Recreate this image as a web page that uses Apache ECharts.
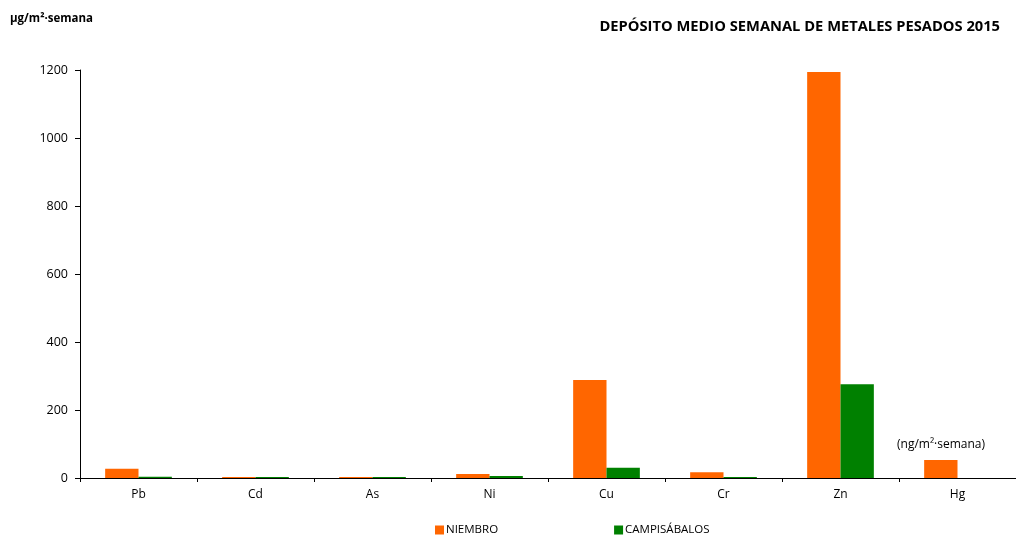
<!DOCTYPE html>
<html>
<head>
<meta charset="utf-8">
<script src="https://cdn.jsdelivr.net/npm/echarts@6/dist/echarts.min.js"></script>
<style>html,body{margin:0;padding:0;background:#fff}#c{width:1016px;height:537px}</style>
</head>
<body>
<div id="c"></div>
<script>
const categories = ['Pb','Cd','As','Ni','Cu','Cr','Zn','Hg'];
const niembro = [27, 2, 2, 12, 288, 17, 1194, 53];
const campisabalos = [4, 2, 2, 6, 30, 3, 276, null];
const yTicks = [0, 200, 400, 600, 800, 1000, 1200];
const seriesNames = ['NIEMBRO', 'CAMPISÁBALOS'];
const titleText = 'DEPÓSITO MEDIO SEMANAL DE METALES PESADOS 2015';
const unitText = 'µg/m²·semana';
const hgNote = '(ng/m²·semana)';

const FONT = '"Open Sans", "Liberation Sans", sans-serif';
const chart = echarts.init(document.getElementById('c'), null, {renderer: 'canvas'});
chart.setOption({
  animation: false,
  backgroundColor: '#ffffff',
  textStyle: {fontFamily: FONT},
  title: [
    {text: titleText, right: 16, top: 19, padding: 0,
     textStyle: {fontFamily: FONT, fontSize: 14.7, fontWeight: 'bold', color: '#000'}},
    {text: unitText, left: 10, top: 13, padding: 0,
     textStyle: {fontFamily: FONT, fontSize: 11.5, fontWeight: 'bold', color: '#000'}}
  ],
  legend: {
    bottom: 1, left: 435, padding: 0,
    itemWidth: 9, itemHeight: 9, itemGap: 116,
    icon: 'rect',
    textStyle: {fontFamily: FONT, fontSize: 11.5, color: '#000', padding: [0,0,0,-3]},
    data: seriesNames
  },
  grid: {left: 80, right: -1, top: 70, bottom: 59, containLabel: false},
  xAxis: {
    type: 'category', data: categories,
    axisLine: {lineStyle: {color: '#000', width: 1}},
    axisTick: {show: true, length: 4, lineStyle: {color: '#000'}},
    axisLabel: {color: '#000', fontSize: 12, margin: 11, fontFamily: FONT}
  },
  yAxis: {
    type: 'value', min: yTicks[0], max: yTicks[yTicks.length-1], interval: 200,
    axisLine: {show: true, lineStyle: {color: '#000', width: 1}},
    axisTick: {show: true, length: 5, lineStyle: {color: '#000'}},
    splitLine: {show: false},
    axisLabel: {color: '#000', fontSize: 12.5, margin: 12, fontFamily: FONT,
                formatter: v => String(v)}
  },
  series: [
    {name: seriesNames[0], type: 'bar', data: niembro, barGap: '0%', barCategoryGap: '43%',
     barMinHeight: 1, itemStyle: {color: '#FF6600'}},
    {name: seriesNames[1], type: 'bar', data: campisabalos, barGap: '0%', barCategoryGap: '43%',
     barMinHeight: 1, itemStyle: {color: '#008000'}}
  ],
  graphic: [
    {type: 'text', left: 897, top: 439,
     style: {text: hgNote, fontFamily: FONT, fontSize: 12, fill: '#000'}}
  ]
});
</script>
</body>
</html>
